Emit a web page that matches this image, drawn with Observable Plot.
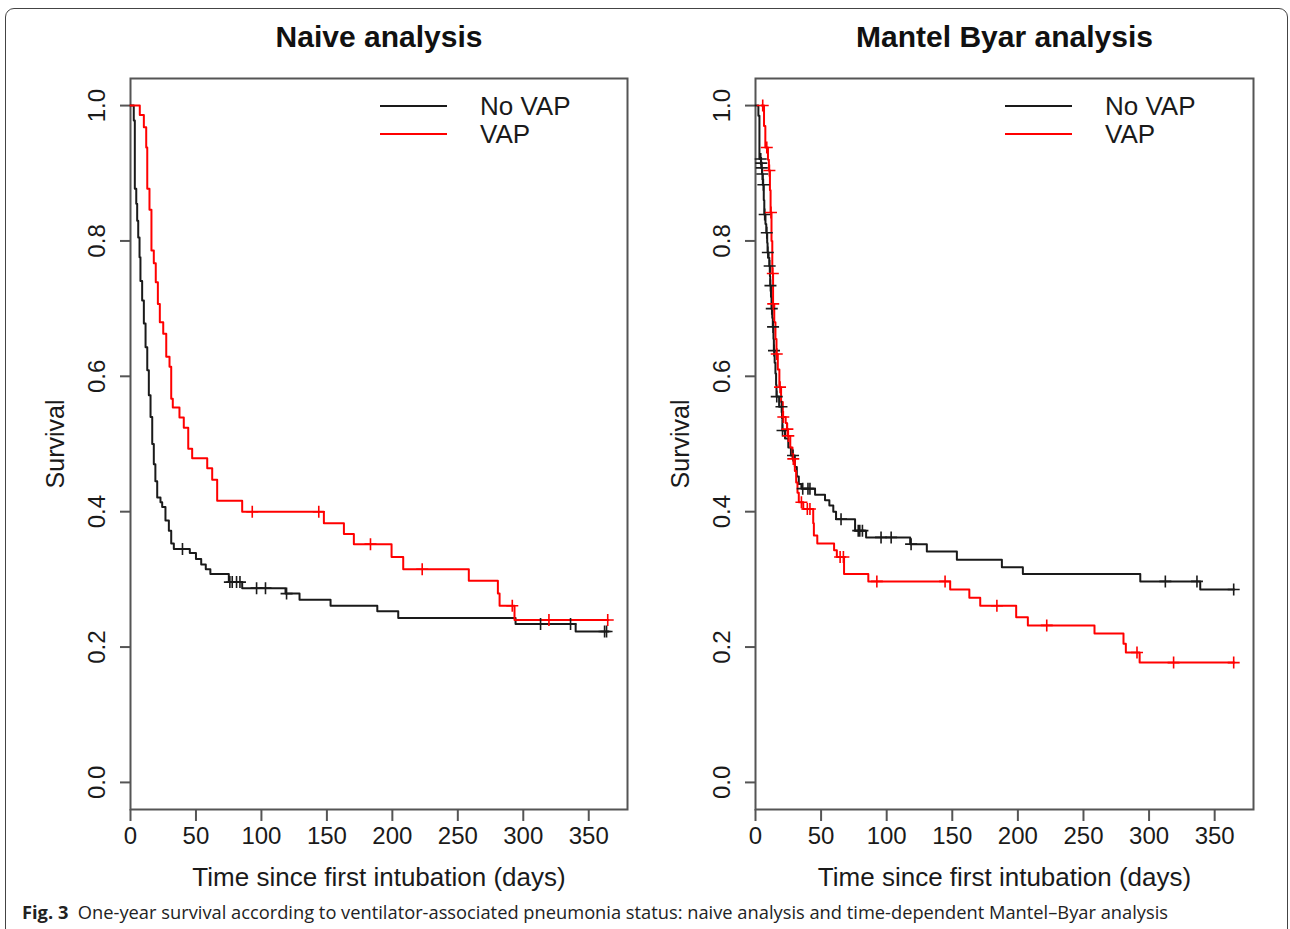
<!DOCTYPE html>
<html><head><meta charset="utf-8">
<script src="https://cdn.jsdelivr.net/npm/d3@7"></script>
<script src="https://cdn.jsdelivr.net/npm/@observablehq/plot@0.6"></script>
<style>
body{margin:0;background:#fff;}
#wrap{position:relative;width:1290px;height:929px;overflow:hidden;background:#fff;}
#frame{position:absolute;left:5px;top:8px;width:1283px;height:990px;border:1.5px solid #444;border-radius:9px;box-sizing:border-box;}
#left,#right{position:absolute;top:0;}
#left{left:0px;}
#right{left:640px;}
#caption{position:absolute;left:22px;top:899px;font-family:"Open Sans",sans-serif;font-size:18.3px;color:#222;white-space:nowrap;}
#caption b{font-weight:700;}
</style></head>
<body><div id="wrap"><div id="frame"></div><div id="left"></div><div id="right"></div>
<div id="caption"><b>Fig. 3</b>&nbsp; One-year survival according to ventilator-associated pneumonia status: naive analysis and time-dependent Mantel–Byar analysis</div></div>
<script>
// ---------- data ----------
const xTicks = [0, 50, 100, 150, 200, 250, 300, 350];
const yTicks = [0.0, 0.2, 0.4, 0.6, 0.8, 1.0];
const seriesNames = ["No VAP", "VAP"];
const seriesColors = ["#1a1a1a", "#ff0000"];
const panelTitles = ["Naive analysis", "Mantel Byar analysis"];
const xLabel = "Time since first intubation (days)";
const yLabel = "Survival";
const followUpEnd = 365;

// Naive analysis: [day, survival after step]
const naiveNoVap = [[0,1.0],[2.5,0.978],[3.3,0.877],[4.4,0.855],[5.1,0.830],[5.9,0.805],[6.9,0.776],[7.6,0.741],[8.9,0.712],[10.2,0.678],[11.5,0.643],[12.8,0.609],[14.0,0.572],[15.3,0.540],[16.6,0.500],[17.8,0.470],[19.0,0.445],[20.4,0.421],[22.9,0.414],[24.2,0.407],[26.7,0.387],[29.3,0.372],[31.1,0.353],[33.1,0.345],[45.3,0.339],[50,0.330],[54,0.322],[57.5,0.315],[61,0.308],[75.1,0.296],[85.3,0.287],[118.4,0.279],[129.1,0.270],[152.8,0.261],[188.5,0.253],[204.5,0.243],[294.1,0.234],[340,0.223]];
const naiveNoVapCensor = [39.7,75.9,77.7,81,83.6,96.3,103.1,119.2,313.2,336.1,362.1,363.6];
const naiveVap = [[0,1.0],[7.1,0.986],[10.2,0.968],[12.0,0.938],[12.8,0.877],[14.5,0.846],[16.0,0.786],[17.8,0.767],[19.3,0.739],[20.9,0.707],[22.4,0.680],[25.0,0.663],[27.3,0.629],[29.8,0.614],[31.1,0.567],[32.3,0.554],[37.4,0.539],[40.7,0.524],[44.1,0.493],[47.1,0.479],[58.6,0.464],[62.4,0.447],[66.2,0.416],[85.3,0.400],[147.7,0.383],[163,0.367],[170.6,0.352],[199.4,0.333],[208.3,0.315],[258.4,0.298],[280.6,0.279],[281.9,0.261],[293.3,0.240]];
const naiveVapCensor = [93,143.8,183.3,222.8,291.6,319.6,364.5];

// Mantel-Byar analysis
const mbNoVap = [[0,1.0],[2.2,0.985],[3.0,0.921],[4.2,0.915],[4.6,0.908],[5.0,0.899],[5.6,0.883],[6.3,0.860],[6.7,0.839],[7.6,0.825],[8.2,0.812],[8.9,0.797],[9.2,0.783],[10.0,0.775],[10.5,0.763],[11.0,0.748],[11.2,0.734],[11.8,0.717],[12.2,0.700],[12.8,0.686],[13.2,0.673],[13.7,0.655],[14.0,0.638],[14.6,0.620],[15.2,0.604],[15.7,0.587],[16.0,0.570],[18.0,0.555],[20.2,0.538],[20.5,0.520],[22.5,0.508],[25.0,0.495],[27.0,0.483],[30.0,0.466],[31.5,0.452],[33.0,0.441],[35.0,0.434],[45.4,0.425],[53,0.417],[56.3,0.409],[59.3,0.400],[61.4,0.389],[75.9,0.372],[84.3,0.362],[117.9,0.352],[130.6,0.341],[153.5,0.329],[187.8,0.318],[203.8,0.308],[293.3,0.297],[339,0.285]];
const mbNoVapCensor = [4.0,4.4,4.8,5.2,6.0,7.0,8.6,9.4,10.8,11.4,12.4,13.4,14.1,16.2,19.8,20.6,28.6,36,40,41.5,65.2,78.3,79.5,81.5,95.7,103.4,118.6,312.4,336.5,364.5];
const mbVap = [[4.5,1.0],[6.5,0.970],[7.5,0.938],[9.5,0.920],[10.2,0.904],[11.0,0.875],[11.5,0.842],[12.2,0.800],[12.8,0.752],[13.4,0.707],[14.3,0.680],[15.2,0.655],[16.0,0.633],[17.0,0.610],[18.2,0.584],[19.5,0.562],[20.8,0.540],[23.0,0.531],[24.0,0.522],[24.7,0.512],[26.5,0.495],[28.2,0.478],[30.0,0.460],[31.0,0.443],[32.0,0.428],[33.0,0.414],[36.4,0.404],[44,0.383],[44.5,0.365],[47.1,0.353],[59.9,0.343],[62,0.333],[67.5,0.308],[86,0.297],[148.4,0.285],[163,0.273],[171.3,0.261],[198.7,0.244],[207.6,0.232],[258.4,0.220],[280.5,0.205],[282.3,0.192],[292.8,0.177]];
const mbVapCensor = [5.5,8.6,10.6,11.8,13.2,13.5,16.2,18.7,21.2,24.3,25.0,28.8,35,39.5,41.5,64.5,67,92.5,144.5,184,222,290.8,318.7,364.5];

// ---------- helpers ----------
function stepAt(steps, t) {
  let v = steps[0][1];
  for (const [d, s] of steps) { if (d <= t) v = s; else break; }
  return v;
}
function curveRows(steps, group) {
  const rows = steps.map(([d, s]) => ({day: d, surv: s, group}));
  rows.push({day: followUpEnd, surv: steps[steps.length - 1][1], group});
  return rows;
}
function censorRows(steps, times, group) {
  return times.map(t => ({day: t, surv: stepAt(steps, t), group}));
}
const plusSymbol = {
  draw(ctx, size) {
    const r = Math.sqrt(size / Math.PI);
    ctx.moveTo(-r, 0); ctx.lineTo(r, 0);
    ctx.moveTo(0, -r); ctx.lineTo(0, r);
  }
};

function panel(el, opts) {
  const {width, marginLeft, marginRight, title, series} = opts;
  const lines = [], cens = [];
  series.forEach(([steps, times], i) => {
    lines.push(...curveRows(steps, seriesNames[i]));
    cens.push(...censorRows(steps, times, seriesNames[i]));
  });
  const color = Plot.scale({color: {domain: seriesNames, range: seriesColors}});
  const svg = Plot.plot({
    width, height: 895,
    marginTop: 78, marginBottom: 86, marginLeft, marginRight,
    style: {fontFamily: "'Liberation Sans', Arial, sans-serif", color: "#1a1a1a", background: "transparent", overflow: "visible"},
    x: {domain: [0, 379.6]},
    y: {domain: [-0.04, 1.04]},
    color: {domain: seriesNames, range: seriesColors},
    marks: [
      Plot.frame({stroke: "#555", strokeWidth: 2}),
      Plot.axisX(xTicks, {tickSize: 12, tickPadding: 5, fontSize: 24, stroke: "#555", strokeWidth: 2, label: null, tickFormat: d => String(d)}),
      Plot.axisY(yTicks, {tickSize: 10, stroke: "#555", strokeWidth: 2, label: null, tickFormat: () => ""}),
      Plot.text(yTicks, {y: d => d, text: d => d.toFixed(1), frameAnchor: "left", textAnchor: "middle", lineAnchor: "middle", dx: -33, rotate: -90, fontSize: 24, fill: "#1a1a1a"}),
      Plot.text([yLabel], {text: d => d, frameAnchor: "left", textAnchor: "middle", lineAnchor: "middle", dx: -75, rotate: -90, fontSize: 25, fill: "#1a1a1a"}),
      Plot.text([xLabel], {text: d => d, frameAnchor: "bottom", lineAnchor: "middle", dy: 68, fontSize: 26, fill: "#1a1a1a"}),
      Plot.text([title], {text: d => d, frameAnchor: "top", lineAnchor: "middle", dy: -41, fontSize: 30, fontWeight: "bold", fill: "#111"}),
      Plot.line(lines, {x: "day", y: "surv", z: "group", stroke: "group", curve: "step-after", strokeWidth: 2}),
      Plot.dot(cens, {x: "day", y: "surv", stroke: "group", fill: "none", symbol: plusSymbol, r: 6, strokeWidth: 1.6})
    ]
  });
  // legend inside the plot, top right
  const g = d3.select(svg).append("g").attr("text-anchor", "start");
  seriesNames.forEach((name, i) => {
    const y = 106 + i * 28;
    const x0 = marginLeft + 250;
    g.append("line").attr("x1", x0).attr("x2", x0 + 67).attr("y1", y).attr("y2", y)
      .attr("stroke", color.apply(name)).attr("stroke-width", 2);
    g.append("text").attr("x", x0 + 100).attr("y", y).attr("dy", "0.35em")
      .attr("text-anchor", "start")
      .attr("font-size", 26).attr("fill", "#1a1a1a").text(name);
  });
  el.appendChild(svg);
}

panel(document.getElementById("left"), {
  width: 640, marginLeft: 130, marginRight: 13, title: panelTitles[0],
  series: [[naiveNoVap, naiveNoVapCensor], [naiveVap, naiveVapCensor]]
});
panel(document.getElementById("right"), {
  width: 650, marginLeft: 115, marginRight: 37, title: panelTitles[1],
  series: [[mbNoVap, mbNoVapCensor], [mbVap, mbVapCensor]]
});
</script>
</body></html>
